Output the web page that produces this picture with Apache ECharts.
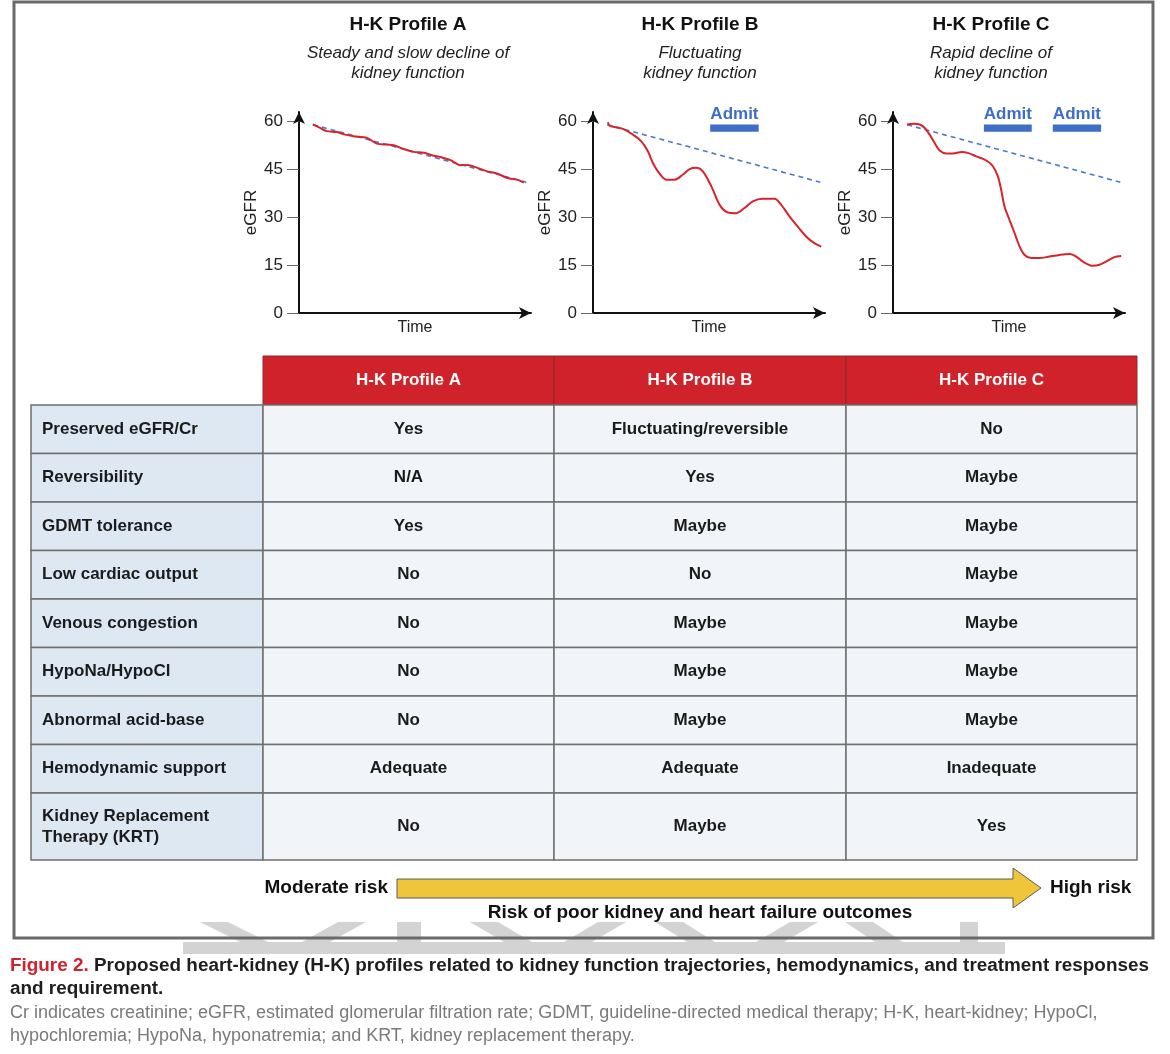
<!DOCTYPE html>
<html>
<head>
<meta charset="utf-8">
<script src="https://cdn.jsdelivr.net/npm/echarts@6/dist/echarts.min.js"></script>
<style>
  html, body { margin: 0; padding: 0; background: #fff; }
  #main { width: 1170px; height: 1054px; }
</style>
</head>
<body>
<div id="main"></div>
<script>
// eGFR trajectories (time in arbitrary units)
const timeA = [5.8, 8.9, 11.7, 16.0, 19.5, 23.0, 28.7, 32.9, 37.2, 40.0, 44.2, 48.4, 52.7, 56.9, 59.7, 64.0, 68.2, 71.1, 75.3, 79.5, 83.8, 88.0, 92.2, 95.0];
const egfrA = [59.1, 58.0, 57.0, 56.7, 55.9, 55.4, 54.9, 53.1, 52.8, 52.6, 51.4, 50.5, 50.2, 49.3, 48.9, 47.9, 46.3, 46.4, 45.5, 44.4, 43.7, 42.3, 41.8, 40.9];

const timeB = [6.3, 7.0, 9.9, 12.7, 16.9, 20.4, 23.2, 25.3, 27.4, 31.0, 34.5, 38.0, 40.8, 43.6, 46.4, 50.0, 53.5, 57.0, 60.5, 64.0, 67.5, 71.7, 76.7, 79.5, 83.0, 86.5, 90.0, 93.5, 96.4];
const egfrB = [59.8, 58.7, 58.2, 57.7, 55.9, 53.8, 50.7, 47.0, 44.4, 41.8, 41.8, 43.4, 45.1, 45.5, 44.4, 39.7, 33.9, 31.5, 31.3, 32.9, 35.0, 35.8, 35.8, 33.9, 30.3, 27.1, 24.0, 21.9, 20.8];

const timeC = [5.9, 8.4, 11.3, 13.4, 15.5, 17.6, 19.7, 22.5, 25.3, 28.9, 31.6, 35.2, 39.4, 42.2, 44.3, 45.7, 47.1, 49.2, 51.4, 53.5, 55.6, 58.4, 61.9, 66.1, 70.3, 74.6, 77.4, 80.2, 84.4, 87.2, 90.0, 93.5, 96.4];
const egfrC = [59.1, 59.3, 59.1, 58.0, 55.9, 53.3, 50.9, 50.0, 50.0, 50.5, 50.2, 49.1, 47.8, 46.0, 42.8, 38.6, 33.4, 29.2, 25.0, 20.8, 18.2, 17.2, 17.2, 17.7, 18.2, 18.5, 17.7, 16.1, 14.8, 15.1, 16.1, 17.5, 17.9];

// expected (slow) decline shown as dashed line
const trendTime = [6, 96];
const trendEgfr = [59, 41];

// admission periods [start, end]
const admitA = [];
const admitB = [[49.5, 70]];
const admitC = [[38.4, 58.6], [67.5, 87.9]];

const yTicks = [0, 15, 30, 45, 60];

const profiles = ['H-K Profile A', 'H-K Profile B', 'H-K Profile C'];
const subtitles = ['Steady and slow decline of\nkidney function', 'Fluctuating\nkidney function', 'Rapid decline of\nkidney function'];

const rowLabels = ['Preserved eGFR/Cr', 'Reversibility', 'GDMT tolerance', 'Low cardiac output', 'Venous congestion',
  'HypoNa/HypoCl', 'Abnormal acid-base', 'Hemodynamic support', 'Kidney Replacement\nTherapy (KRT)'];
const valuesA = ['Yes', 'N/A', 'Yes', 'No', 'No', 'No', 'No', 'Adequate', 'No'];
const valuesB = ['Fluctuating/reversible', 'Yes', 'Maybe', 'No', 'Maybe', 'Maybe', 'Maybe', 'Adequate', 'Maybe'];
const valuesC = ['No', 'Maybe', 'Maybe', 'Maybe', 'Maybe', 'Maybe', 'Maybe', 'Inadequate', 'Yes'];

const FONT = '"Liberation Sans", Arial, Helvetica, sans-serif';
const RED = '#d0222b';
const BLUE = '#3d6fc6';

const chart = echarts.init(document.getElementById('main'));

// layout of the three small panels
const panelLeft = [299, 593, 893];
const panelCenter = [408, 700, 991];
const curves = [[timeA, egfrA], [timeB, egfrB], [timeC, egfrC]];
const admits = [admitA, admitB, admitC];
const ADMIT_TOP = 59.1, ADMIT_BOTTOM = 56.8;

const grid = [], xAxis = [], yAxis = [], series = [], title = [];

panelLeft.forEach((left, i) => {
  grid.push({ left: left, top: 112, width: 232, height: 201 });
  xAxis.push({
    type: 'value', gridIndex: i, min: 0, max: 98,
    name: 'Time', nameLocation: 'middle', nameGap: 7,
    nameTextStyle: { fontSize: 16, color: '#222', fontFamily: FONT, verticalAlign: 'top' },
    axisLine: { lineStyle: { color: '#111', width: 2 }, symbol: ['none', 'arrow'], symbolSize: [9, 12] },
    axisTick: { show: false }, axisLabel: { show: false }, splitLine: { show: false }
  });
  yAxis.push({
    type: 'value', gridIndex: i, min: 0, max: 63,
    name: 'eGFR', nameLocation: 'middle', nameRotate: 90, nameGap: 33,
    nameTextStyle: { fontSize: 17, color: '#222', fontFamily: FONT },
    axisLine: { show: true, lineStyle: { color: '#111', width: 2 }, symbol: ['none', 'arrow'], symbolSize: [9, 12] },
    axisTick: { show: true, length: 12, customValues: yTicks, lineStyle: { color: '#666', width: 1 } },
    axisLabel: { customValues: yTicks, margin: 16, fontSize: 17, color: '#222', fontFamily: FONT },
    splitLine: { show: false }
  });
  title.push({
    text: profiles[i], subtext: subtitles[i],
    left: panelCenter[i] - 5, top: 10, textAlign: 'center', itemGap: 9,
    textStyle: { fontSize: 19, fontWeight: 'bold', color: '#111', fontFamily: FONT, lineHeight: 19 },
    subtextStyle: { fontSize: 17, fontStyle: 'italic', color: '#222', fontFamily: FONT, lineHeight: 20 }
  });
  series.push({
    type: 'line', xAxisIndex: i, yAxisIndex: i, z: 3,
    data: curves[i][0].map((t, k) => [t, curves[i][1][k]]),
    smooth: 0.3, symbol: 'none', lineStyle: { color: '#d8232a', width: 2 }
  });
  series.push({
    type: 'line', xAxisIndex: i, yAxisIndex: i, z: 2,
    data: trendTime.map((t, k) => [t, trendEgfr[k]]),
    symbol: 'none', lineStyle: { color: '#4b7bc8', width: 1.6, type: [5, 4] },
    markArea: {
      silent: true,
      itemStyle: { color: BLUE, opacity: 1 },
      label: { show: true, position: 'top', distance: 2, formatter: 'Admit', color: BLUE, fontWeight: 'bold', fontSize: 17, fontFamily: FONT },
      data: admits[i].map(a => [{ coord: [a[0], ADMIT_TOP] }, { coord: [a[1], ADMIT_BOTTOM] }])
    }
  });
});

// table: column and row extents (table units)
const colWidths = [232, 291, 292, 291];
const rowHeights = [49, 48.5, 48.5, 48.5, 48.5, 48.5, 48.5, 48.5, 48.5, 67];
const colEdges = [0], rowEdges = [0];
colWidths.forEach(w => colEdges.push(colEdges[colEdges.length - 1] + w));
rowHeights.forEach(h => rowEdges.push(rowEdges[rowEdges.length - 1] + h));

const tableCells = [];
profiles.forEach((p, c) => tableCells.push({ value: [c + 1, 0], text: p }));
rowLabels.forEach((lab, r) => {
  tableCells.push({ value: [0, r + 1], text: lab });
  tableCells.push({ value: [1, r + 1], text: valuesA[r] });
  tableCells.push({ value: [2, r + 1], text: valuesB[r] });
  tableCells.push({ value: [3, r + 1], text: valuesC[r] });
});

grid.push({ left: 31, top: 356, width: colEdges[4], height: rowEdges[rowEdges.length - 1] });
xAxis.push({ type: 'value', gridIndex: 3, min: 0, max: colEdges[4], show: false });
yAxis.push({ type: 'value', gridIndex: 3, min: 0, max: rowEdges[rowEdges.length - 1], inverse: true, show: false });

series.push({
  type: 'custom', xAxisIndex: 3, yAxisIndex: 3, silent: true,
  data: tableCells,
  renderItem: (params, api) => {
    const c = api.value(0), r = api.value(1);
    const cell = tableCells[params.dataIndex];
    const p0 = api.coord([colEdges[c], rowEdges[r]]);
    const p1 = api.coord([colEdges[c + 1], rowEdges[r + 1]]);
    const x = p0[0], y = p0[1], w = p1[0] - p0[0], h = p1[1] - p0[1];
    const header = r === 0;
    const fill = header ? RED : (c === 0 ? '#dde8f2' : '#f1f5f9');
    return {
      type: 'group',
      children: [
        { type: 'rect', shape: { x: x, y: y, width: w, height: h },
          style: { fill: fill, stroke: header ? '#8c2a2a' : '#6f6f6f', lineWidth: header ? 1 : 1.5 } },
        { type: 'text', style: {
            x: c === 0 ? x + 11 : x + w / 2, y: y + h / 2, text: cell.text,
            align: c === 0 ? 'left' : 'center', verticalAlign: 'middle',
            textAlign: c === 0 ? 'left' : 'center', textVerticalAlign: 'middle',
            fill: header ? '#fff' : '#1b1b1b', font: 'bold 17px ' + FONT, lineHeight: 21 } }
      ]
    };
  }
});

function txt(x, y, text, font, fill, align) {
  return { type: 'text', x: x, y: y, z: 10,
    style: { text: text, font: font, fill: fill, align: align, textAlign: align, verticalAlign: 'middle', textVerticalAlign: 'middle' } };
}

const wm = '#d3d3d3';
const graphic = [
  // watermark remnants
  { type: 'rect', shape: { x: 183, y: 942, width: 822, height: 12 }, style: { fill: wm }, z: 0 },
  { type: 'polygon', shape: { points: [[200, 922], [228, 922], [268, 942], [240, 942]] }, style: { fill: wm }, z: 0 },
  { type: 'polygon', shape: { points: [[338, 922], [366, 922], [330, 942], [302, 942]] }, style: { fill: wm }, z: 0 },
  { type: 'rect', shape: { x: 397, y: 922, width: 24, height: 20 }, style: { fill: wm }, z: 0 },
  { type: 'polygon', shape: { points: [[470, 922], [498, 922], [532, 942], [504, 942]] }, style: { fill: wm }, z: 0 },
  { type: 'polygon', shape: { points: [[598, 922], [626, 922], [592, 942], [564, 942]] }, style: { fill: wm }, z: 0 },
  { type: 'polygon', shape: { points: [[655, 922], [683, 922], [715, 942], [687, 942]] }, style: { fill: wm }, z: 0 },
  { type: 'polygon', shape: { points: [[790, 922], [818, 922], [784, 942], [756, 942]] }, style: { fill: wm }, z: 0 },
  { type: 'polygon', shape: { points: [[845, 922], [873, 922], [903, 942], [875, 942]] }, style: { fill: wm }, z: 0 },
  { type: 'rect', shape: { x: 960, y: 922, width: 18, height: 20 }, style: { fill: wm }, z: 0 },
  // frame
  { type: 'rect', shape: { x: 14, y: 2, width: 1139, height: 936 }, style: { fill: 'transparent', stroke: '#6a6a6a', lineWidth: 3 }, z: 5 },
  // risk arrow
  { type: 'polygon', z: 6,
    shape: { points: [[397, 879], [1013, 879], [1013, 868], [1041, 888], [1013, 908], [1013, 898], [397, 898]] },
    style: { fill: '#efc63b', stroke: '#5b5b5b', lineWidth: 1 } },
  txt(388, 888, 'Moderate risk', 'bold 19px ' + FONT, '#111', 'right'),
  txt(1050, 888, 'High risk', 'bold 19px ' + FONT, '#111', 'left'),
  txt(700, 913, 'Risk of poor kidney and heart failure outcomes', 'bold 19px ' + FONT, '#111', 'center'),
  // caption
  { type: 'text', x: 10, y: 954, z: 10,
    style: {
      text: '{r|Figure 2.} Proposed heart-kidney (H-K) profiles related to kidney function trajectories, hemodynamics, and treatment responses\nand requirement.',
      font: 'bold 18.9px ' + FONT, fill: '#1e1e1e', lineHeight: 23,
      rich: { r: { fill: RED, font: 'bold 18.9px ' + FONT, lineHeight: 23 } }
    } },
  { type: 'text', x: 10, y: 1002, z: 10,
    style: {
      text: 'Cr indicates creatinine; eGFR, estimated glomerular filtration rate; GDMT, guideline-directed medical therapy; H-K, heart-kidney; HypoCl,\nhypochloremia; HypoNa, hyponatremia; and KRT, kidney replacement therapy.',
      font: '18px ' + FONT, fill: '#7a7a7a', lineHeight: 23
    } }
];

chart.setOption({
  backgroundColor: '#fff',
  animation: false,
  title: title,
  grid: grid,
  xAxis: xAxis,
  yAxis: yAxis,
  series: series,
  graphic: graphic
});

window.addEventListener('resize', function () {
  chart.resize();
});
</script>
</body>
</html>
